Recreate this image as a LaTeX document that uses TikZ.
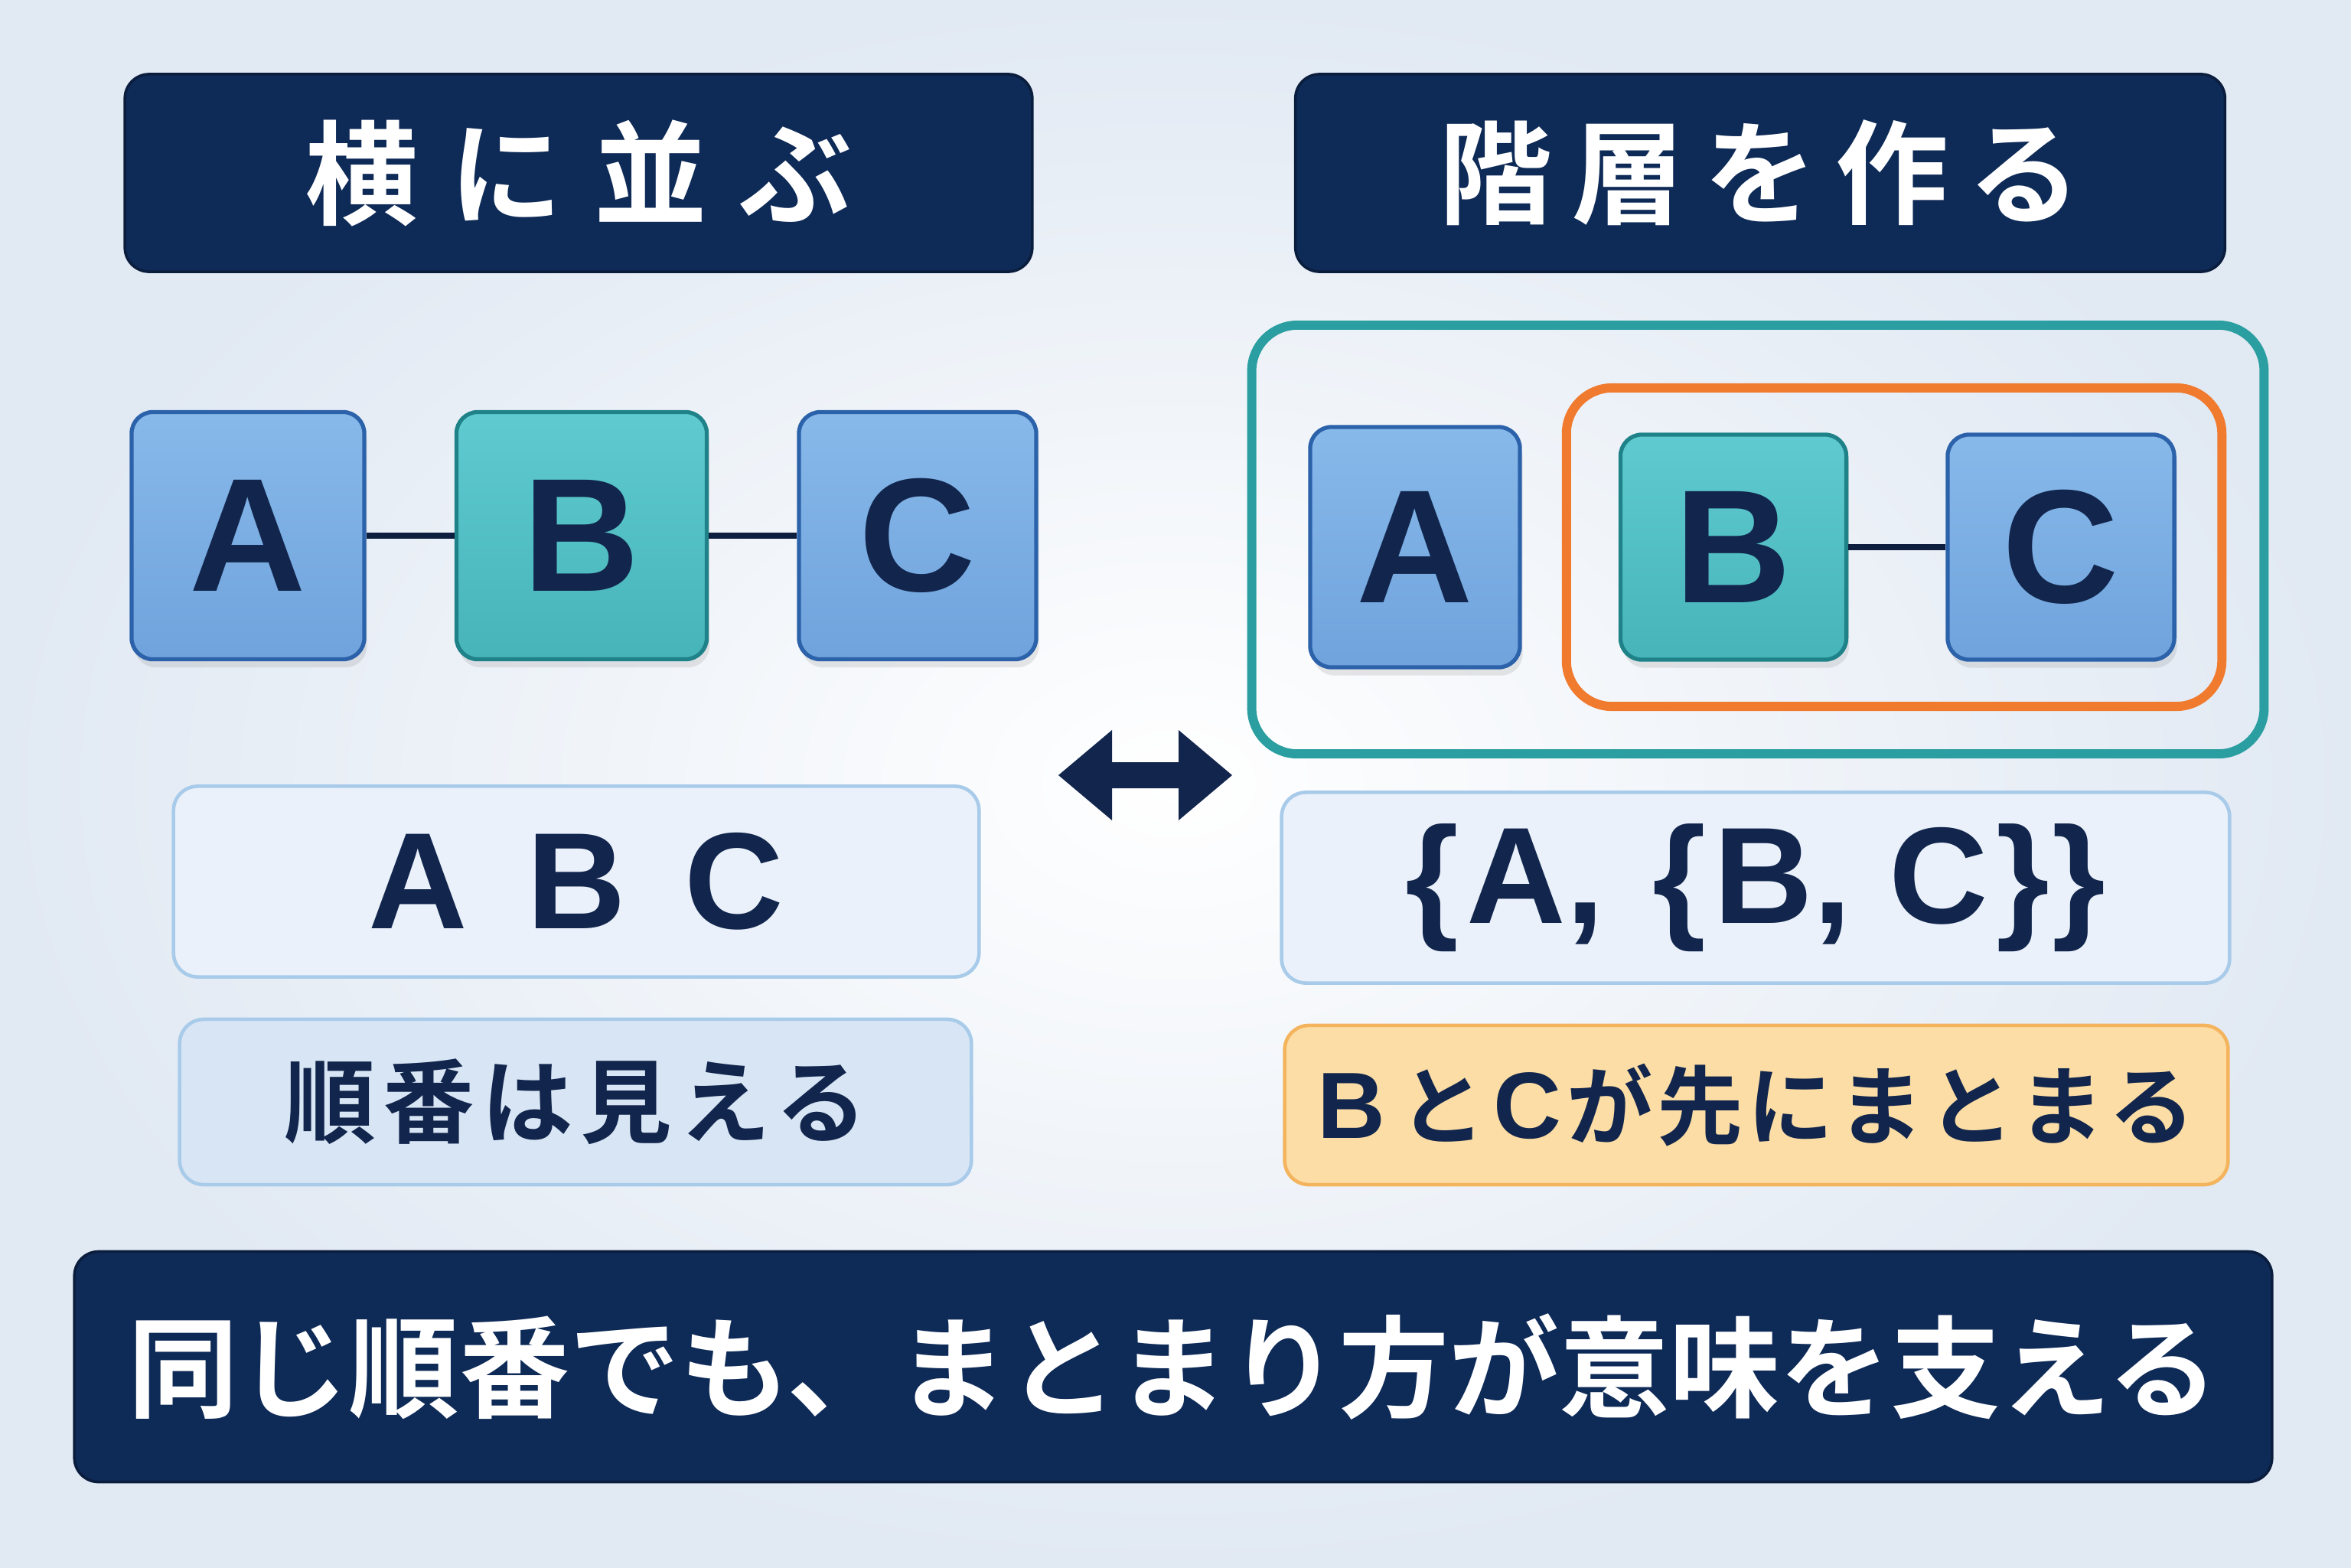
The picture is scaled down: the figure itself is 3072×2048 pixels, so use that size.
\documentclass[tikz,border=0pt]{standalone}
\usepackage{fontspec}
\newfontfamily\jpb{Noto Sans CJK JP Bold}
\newfontfamily\lat{Liberation Sans}
\usetikzlibrary{shadows}
\definecolor{bgc}{HTML}{E1E9F3}
\definecolor{navy}{HTML}{0E2A57}
\definecolor{ink}{HTML}{12264D}
\definecolor{blueA}{HTML}{87B9EA}
\definecolor{blueB}{HTML}{70A3DC}
\definecolor{bluebd}{HTML}{2C62AA}
\definecolor{tealA}{HTML}{5FCBD0}
\definecolor{tealB}{HTML}{47B4BA}
\definecolor{tealbd}{HTML}{1E8288}
\definecolor{frameteal}{HTML}{2A9EA0}
\definecolor{frameorange}{HTML}{F07A2E}
\definecolor{pale}{HTML}{EAF1FA}
\definecolor{palebd}{HTML}{A9CBEA}
\definecolor{paleB}{HTML}{D8E5F4}
\definecolor{peach}{HTML}{FCDDA5}
\definecolor{peachbd}{HTML}{F4B45E}
\tikzset{
  titlebox/.style={fill=navy, draw=navy!70!black, line width=1pt, rounded corners=9pt,
    text=white, inner sep=0pt, font={\jpb\fontsize{42pt}{44pt}\selectfont}},
  letterbox/.style={draw=bluebd, line width=1.5pt, top color=blueA, bottom color=blueB,
    rounded corners=8pt, text=ink, inner sep=0pt,
    font={\lat\bfseries\fontsize{60pt}{62pt}\selectfont},
    drop shadow={opacity=0.18, shadow xshift=1pt, shadow yshift=-3pt}},
  tealbox/.style={letterbox, draw=tealbd, top color=tealA, bottom color=tealB},
  frame/.style={draw=#1, line width=3.4pt, rounded corners=17pt, inner sep=0pt},
  infobox/.style={fill=pale, draw=palebd, line width=1.3pt, rounded corners=9pt,
    text=ink, inner sep=0pt},
  link/.style={draw=ink!80!black, line width=2.4pt},
}
\begin{document}
\begin{tikzpicture}[x=0.01cm, y=-0.01cm]
\useasboundingbox (0,0) rectangle (3072,2048);
\fill[inner color=white, outer color=bgc] (0,0) rectangle (3072,2048);

% titles
\node[titlebox, minimum width=11.85cm, minimum height=2.58cm] (tl) at (756,226)
  {\addfontfeatures{LetterSpace=28}横に並ぶ\hspace{-11pt}};
\node[titlebox, minimum width=12.14cm, minimum height=2.58cm] (tr) at (2300,226)
  {\addfontfeatures{LetterSpace=17}階層を作る\hspace{-7pt}};

% left row
\node[letterbox, minimum width=3.04cm, minimum height=3.23cm] (la) at (324,700) {A};
\node[tealbox, minimum width=3.27cm, minimum height=3.23cm] (lb) at (760,700) {B};
\node[letterbox, minimum width=3.10cm, minimum height=3.23cm] (lc) at (1199,700) {C};
\draw[link] (la.east) -- (lb.west);
\draw[link] (lb.east) -- (lc.west);

% right group
\node[frame=frameteal, minimum width=13.22cm, minimum height=5.60cm] (outer) at (2297,705) {};
\node[frame=frameorange, minimum width=8.56cm, minimum height=4.16cm] (inner) at (2475,715) {};
\node[letterbox, minimum width=2.74cm, minimum height=3.14cm] (ra) at (1849,715) {A};
\node[tealbox, minimum width=2.95cm, minimum height=2.94cm] (rb) at (2265,715) {B};
\node[letterbox, minimum width=2.96cm, minimum height=2.94cm] (rc) at (2693,715) {C};
\draw[link] (rb.east) -- (rc.west);

% double arrow
\fill[ink] (1383,1013) -- (1453,954) -- (1453,996) -- (1540,996)
  -- (1540,954) -- (1610,1013) -- (1540,1072) -- (1540,1030) -- (1453,1030)
  -- (1453,1072) -- cycle;

% info boxes
\node[infobox, minimum width=10.52cm, minimum height=2.49cm,
  font={\lat\bfseries\fontsize{51pt}{53pt}\selectfont}] (labc) at (753,1152)
  {A\hspace{22pt}B\hspace{22pt}C};
\node[infobox, fill=paleB, minimum width=10.34cm, minimum height=2.16cm,
  font={\jpb\fontsize{34pt}{36pt}\selectfont}] (lord) at (752,1440)
  {\addfontfeatures{LetterSpace=8}順番は見える\hspace{-3pt}};
\node[infobox, minimum width=12.38cm, minimum height=2.49cm,
  font={\lat\bfseries\fontsize{51pt}{53pt}\selectfont}] (rset) at (2294,1160)
  {\{\hspace{3pt}A,\hspace{18pt}\{\hspace{3pt}B,\hspace{14pt}C\hspace{3pt}\}\hspace{1pt}\}};
\node[infobox, fill=peach, draw=peachbd, minimum width=12.32cm, minimum height=2.08cm,
  font={\jpb\fontsize{32pt}{34pt}\selectfont}] (rgrp) at (2295,1444)
  {\addfontfeatures{LetterSpace=5}{\lat\bfseries\fontsize{35pt}{36pt}\selectfont B}\hspace{5pt}と\hspace{3pt}{\lat\bfseries\fontsize{35pt}{36pt}\selectfont C}\hspace{2pt}が先にまとまる\hspace{-2pt}};

% banner
\node[titlebox, minimum width=28.70cm, minimum height=3.01cm,
  font={\jpb\fontsize{41pt}{43pt}\selectfont}] (banner) at (1533,1786)
  {同じ順番でも、まとまり方が意味を支える};
\end{tikzpicture}
\end{document}
